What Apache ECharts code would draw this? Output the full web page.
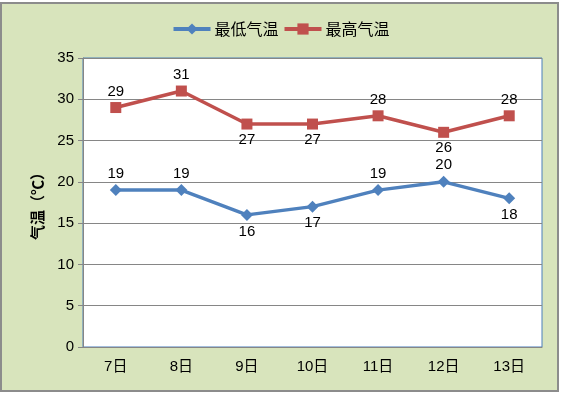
<!DOCTYPE html>
<html><head><meta charset="utf-8">
<script src="https://cdn.jsdelivr.net/npm/echarts@6/dist/echarts.min.js"></script>
<style>html,body{margin:0;padding:0;background:#fff}#c{width:561px;height:394px}</style>
</head><body><div id="c"></div>
<script>
var categories = ['7日','8日','9日','10日','11日','12日','13日'];
var lowTemps = [19,19,16,17,19,20,18];
var highTemps = [29,31,27,27,28,26,28];
var lowLabelPlacement = ['top','top','bottom','bottom','top','top','bottom'];
var highLabelPlacement = ['top','top','bottom','bottom','top','bottom','top'];
var yTicks = [0,35,5];

var FONT = "'Liberation Sans','Noto Sans CJK SC',sans-serif";
function withLabels(vals, pos){
  return vals.map(function(v,i){ return {value:v, label:{position:pos[i]}}; });
}
var chart = echarts.init(document.getElementById('c'));
chart.setOption({
  animation:false,
  backgroundColor:'#ffffff',
  graphic:[{type:'rect', z:-10, shape:{x:1,y:3,width:557,height:388},
    style:{fill:'#d8e4bc', stroke:'#8c8c8c', lineWidth:2}}],
  legend:{top:16, left:'center', itemWidth:37, itemHeight:14, itemGap:4,
    lineStyle:{width:4},
    textStyle:{fontSize:16, color:'#000', padding:[0,0,0,-1], fontFamily:"'Noto Sans CJK SC',sans-serif"}},
  grid:{left:83, top:58, right:19, bottom:47, show:true, backgroundColor:'#ffffff',
    borderColor:'#4a7ebb', borderWidth:1},
  xAxis:{type:'category', data:categories, boundaryGap:true,
    axisLine:{lineStyle:{color:'#868686', width:1}},
    axisTick:{alignWithLabel:true, inside:true, length:4, lineStyle:{color:'#868686'}},
    axisLabel:{fontSize:15, color:'#000', margin:12, fontFamily:FONT}},
  yAxis:{type:'value', min:yTicks[0], max:yTicks[1], interval:yTicks[2],
    name:'气温（℃）', nameLocation:'middle', nameGap:38,
    nameTextStyle:{fontSize:15, fontWeight:'bold', color:'#000', fontFamily:"'Noto Sans CJK SC',sans-serif"},
    axisLine:{show:true, lineStyle:{color:'#868686'}},
    axisTick:{show:true, length:5, lineStyle:{color:'#868686'}},
    splitLine:{lineStyle:{color:'#868686', width:1}},
    axisLabel:{fontSize:15, color:'#000', margin:9, fontFamily:FONT}},
  series:[
    {name:'最低气温', type:'line', data:withLabels(lowTemps, lowLabelPlacement),
     symbol:'diamond', symbolSize:12, color:'#4f81bd',
     lineStyle:{width:3.5, color:'#4f81bd'}, itemStyle:{color:'#4f81bd'},
     label:{show:true, fontSize:15, color:'#000', distance:3, fontFamily:FONT}},
    {name:'最高气温', type:'line', data:withLabels(highTemps, highLabelPlacement),
     symbol:'rect', symbolSize:11, color:'#c0504d',
     lineStyle:{width:3.5, color:'#c0504d'}, itemStyle:{color:'#c0504d'},
     label:{show:true, fontSize:15, color:'#000', distance:3, fontFamily:FONT}}
  ]
});
</script></body></html>
